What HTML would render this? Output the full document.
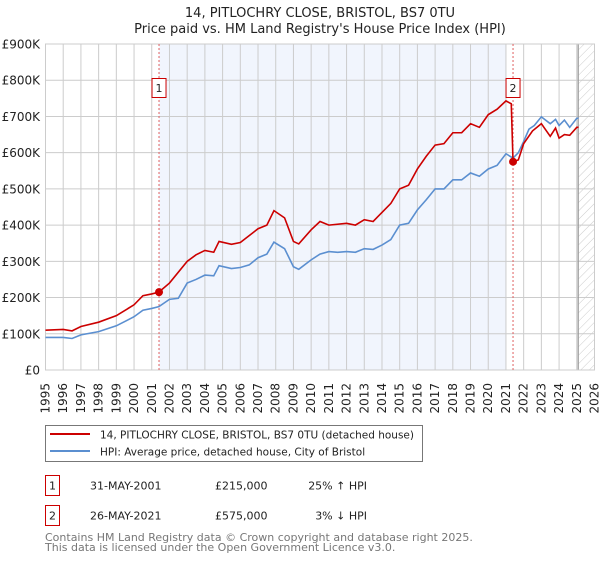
<!DOCTYPE html>
<html><head><meta charset="utf-8"><style>
body{margin:0;background:#fff;font-family:"DejaVu Sans","Liberation Sans",sans-serif;}
svg text{font-family:"DejaVu Sans","Liberation Sans",sans-serif;}
</style></head><body>
<svg id="chart" width="600" height="560" viewBox="0 0 600 560" xmlns="http://www.w3.org/2000/svg">
<defs><pattern id="hatch" patternUnits="userSpaceOnUse" width="6" height="6" patternTransform="rotate(45)"><line x1="0" y1="0" x2="0" y2="6" stroke="#ccc" stroke-width="1"/></pattern></defs>
<text x="320" y="17" text-anchor="middle" font-size="13" fill="#222">14, PITLOCHRY CLOSE, BRISTOL, BS7 0TU</text>
<text x="320" y="33" text-anchor="middle" font-size="13" fill="#222">Price paid vs. HM Land Registry's House Price Index (HPI)</text>
<g id="plot"></g>
<g>
<rect x="45.5" y="425.5" width="377" height="36" fill="#fff" stroke="#777"/>
<line x1="50" y1="434" x2="90" y2="434" stroke="#cc0000" stroke-width="2"/>
<text x="100" y="438.5" font-size="10.5" fill="#222">14, PITLOCHRY CLOSE, BRISTOL, BS7 0TU (detached house)</text>
<line x1="50" y1="451" x2="90" y2="451" stroke="#5b8fd0" stroke-width="2"/>
<text x="100" y="455.5" font-size="10.5" fill="#222">HPI: Average price, detached house, City of Bristol</text>
</g>
<g font-size="11" fill="#222">
<rect x="45.5" y="475.5" width="14" height="20" fill="#fff" stroke="#c00"/>
<text x="52.5" y="489.5" text-anchor="middle">1</text>
<text x="90" y="489.5">31-MAY-2001</text>
<text x="215" y="489.5">£215,000</text>
<text x="367" y="489.5" text-anchor="end">25% ↑ HPI</text>
</g>
<g font-size="11" fill="#222">
<rect x="45.5" y="505.5" width="14" height="20" fill="#fff" stroke="#c00"/>
<text x="52.5" y="519.5" text-anchor="middle">2</text>
<text x="90" y="519.5">26-MAY-2021</text>
<text x="215" y="519.5">£575,000</text>
<text x="367" y="519.5" text-anchor="end">3% ↓ HPI</text>
</g>
<text x="45" y="541" font-size="11" fill="#777">Contains HM Land Registry data © Crown copyright and database right 2025.</text>
<text x="45" y="551" font-size="11" fill="#777">This data is licensed under the Open Government Licence v3.0.</text>
</svg>
<script>
const yearTicks=[1995,1996,1997,1998,1999,2000,2001,2002,2003,2004,2005,2006,2007,2008,2009,2010,2011,2012,2013,2014,2015,2016,2017,2018,2019,2020,2021,2022,2023,2024,2025,2026];
const valueTicks=[0,100000,200000,300000,400000,500000,600000,700000,800000,900000];
const valueTickLabels=["£0","£100K","£200K","£300K","£400K","£500K","£600K","£700K","£800K","£900K"];
const hpiYears=[1995,1996,1996.5,1997,1998,1999,2000,2000.5,2001,2001.4,2002,2002.5,2003,2003.5,2004,2004.5,2004.8,2005.5,2006,2006.5,2007,2007.5,2007.9,2008.5,2009,2009.3,2010,2010.5,2011,2011.5,2012,2012.5,2013,2013.5,2014,2014.5,2015,2015.5,2016,2016.5,2017,2017.5,2018,2018.5,2019,2019.5,2020,2020.5,2021,2021.4,2021.7,2022,2022.3,2022.6,2023,2023.5,2023.8,2024,2024.3,2024.6,2025,2025.1];
const hpiValues=[90000,90000,87000,97000,106000,122000,147000,165000,170000,175000,195000,198000,240000,250000,262000,260000,288000,280000,283000,290000,310000,320000,353000,335000,285000,278000,304000,320000,327000,325000,327000,325000,335000,333000,345000,360000,400000,405000,442000,470000,500000,500000,525000,525000,544000,535000,555000,565000,597000,585000,600000,631000,665000,675000,699000,680000,692000,675000,690000,670000,695000,695000];
const priceYears=[1995,1996,1996.5,1997,1998,1999,2000,2000.5,2001,2001.4,2002,2003,2003.5,2004,2004.5,2004.8,2005.5,2006,2007,2007.5,2007.9,2008.5,2009,2009.3,2010,2010.5,2011,2012,2012.5,2013,2013.5,2014,2014.5,2015,2015.5,2016,2016.5,2017,2017.5,2018,2018.5,2019,2019.5,2020,2020.5,2021,2021.3,2021.4,2021.7,2022,2022.5,2023,2023.5,2023.8,2024,2024.3,2024.6,2025,2025.1];
const priceValues=[110000,112000,108000,120000,132000,150000,180000,205000,210000,215000,240000,300000,318000,330000,325000,355000,347000,352000,390000,400000,440000,420000,355000,348000,387000,410000,400000,405000,400000,415000,410000,435000,460000,500000,510000,555000,590000,621000,625000,655000,655000,680000,670000,705000,720000,743000,735000,575000,580000,625000,660000,680000,645000,668000,640000,650000,648000,670000,670000];
const saleYears=[2001.41,2021.4];
const saleValues=[215000,575000];
const saleLabels=["1","2"];

const X0=45.5,X1=594.5,Y0=370,Y1=44;
const xMin=1995,xMax=2026,vMax=900000;
const xs=v=>X0+(v-xMin)/(xMax-xMin)*(X1-X0);
const ys=v=>Y0-v/vMax*(Y0-Y1);
const NS="http://www.w3.org/2000/svg";
const plot=document.getElementById('plot');
function mk(tag,attrs,parent){const e=document.createElementNS(NS,tag);for(const k in attrs)e.setAttribute(k,attrs[k]);(parent||plot).appendChild(e);return e;}

let bg=mk('rect',{x:X0,y:Y1,width:X1-X0,height:Y0-Y1,fill:'#fff'});


let shade=mk('rect',{x:xs(saleYears[0]),y:Y1,width:xs(2021.0)-xs(saleYears[0]),height:Y0-Y1,fill:'#eef2fc',opacity:0.8});


let hatch=mk('rect',{x:xs(2025.08),y:Y1,width:X1-xs(2025.08),height:Y0-Y1,fill:'url(#hatch)'});



yearTicks.forEach(t=>{
  const x=xs(t);
  const g=mk('line',{x1:x,x2:x,y1:Y1,y2:Y0,stroke:'#ccc','stroke-width':1});
  
  
  const lb=mk('text',{x:x+4,y:383,'font-size':12,fill:'#222','text-anchor':'end',transform:`rotate(-90 ${x+4} 383)`});
  lb.textContent=t;
  
  
});
valueTicks.forEach((v,i)=>{
  const y=ys(v);
  const g=mk('line',{x1:X0,x2:X1,y1:y,y2:y,stroke:'#ccc','stroke-width':1});
  
  
  const lb=mk('text',{x:40,y:y+4.5,'font-size':12,fill:'#222','text-anchor':'end'});
  lb.textContent=valueTickLabels[i];
  
  
});
let vl=mk('line',{x1:xs(2025.08),x2:xs(2025.08),y1:Y1,y2:Y0,stroke:'#999','stroke-width':1.2});


let frame=mk('rect',{x:X0,y:Y1,width:X1-X0,height:Y0-Y1,fill:'none',stroke:'#ccc'});



saleYears.forEach((yr,i)=>{
  const x=xs(yr);
  const d=mk('line',{x1:x,x2:x,y1:Y1,y2:Y0,stroke:'#e06060','stroke-width':1,'stroke-dasharray':'2,2'});
  
  
});

const hp=mk('polyline',{points:hpiYears.map((y,i)=>xs(y)+','+ys(hpiValues[i])).join(' '),fill:'none',stroke:'#5b8fd0','stroke-width':1.6});


const pp=mk('polyline',{points:priceYears.map((y,i)=>xs(y)+','+ys(priceValues[i])).join(' '),fill:'none',stroke:'#cc0000','stroke-width':1.6});



saleYears.forEach((yr,i)=>{
  const x=xs(yr);
  const c=mk('circle',{cx:x,cy:ys(saleValues[i]),r:4,fill:'#cc0000'});
  
  
  const b=mk('rect',{x:x-7,y:78.5,width:14,height:19,fill:'#fff',stroke:'#c00'});
  
  
  const t=mk('text',{x:x,y:92,'font-size':11,'text-anchor':'middle',fill:'#222'});
  t.textContent=saleLabels[i];
  
  
});
</script>
</body></html>
